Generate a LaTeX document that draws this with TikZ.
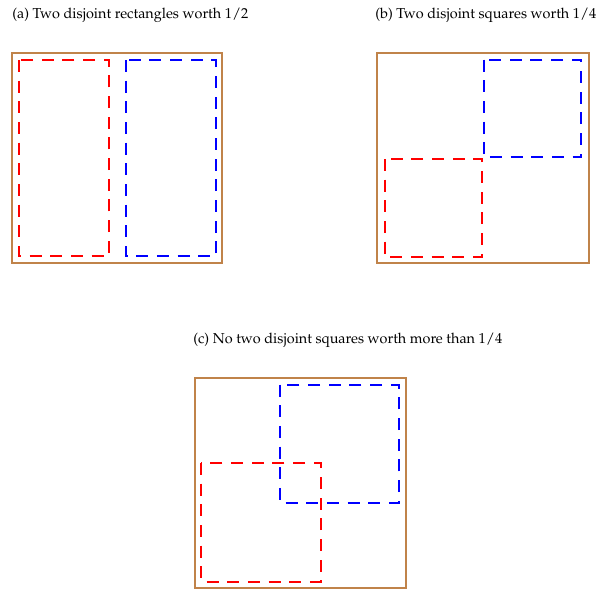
\documentclass[tikz,border=0pt]{standalone}
\usepackage[T1]{fontenc}
\usepackage{mathpazo}
\usepackage{xcolor}
\usepackage{tikz}
\usetikzlibrary{positioning}
\definecolor{framex}{HTML}{C0834A}
\definecolor{redx}{HTML}{FF0000}
\definecolor{bluex}{HTML}{0000FF}
\tikzset{
  frame/.style={draw=framex,line width=1.5pt},
  sqa/.style={draw=redx,line width=1.5pt,dash pattern=on 9pt off 6.5pt},
  sqb/.style={draw=bluex,line width=1.5pt,dash pattern=on 9pt off 6.5pt},
  captxt/.style={font=\fontsize{10.8}{13}\selectfont,inner sep=0pt}
}
\begin{document}
\begin{tikzpicture}[x=0.75pt,y=-0.75pt]
\useasboundingbox (0,0) rectangle (606,590);
% (a)
\node[captxt,anchor=west] (capa) at (12,15) {(a) Two disjoint rectangles worth $1/2$};
\draw[frame] (12,53) rectangle (222,263);
\draw[sqa] (19,60) rectangle (109,256);
\draw[sqb] (125.5,60) rectangle (216,256);
% (b)
\node[captxt,anchor=west] (capb) at (375,15) {(b) Two disjoint squares worth $1/4$};
\draw[frame] (377,53) rectangle (588.5,263);
\draw[sqb] (484,59.5) rectangle (581,157);
\draw[sqa] (384.5,159) rectangle (482,256.5);
% (c)
\node[captxt,anchor=west] (capc) at (193,340) {(c) No two disjoint squares worth more than $1/4$};
\draw[frame] (194.5,378) rectangle (405.5,588);
\draw[sqb] (280,384.5) rectangle (398.5,503);
\draw[sqa] (201,463) rectangle (320.5,581.5);
\end{tikzpicture}
\end{document}
